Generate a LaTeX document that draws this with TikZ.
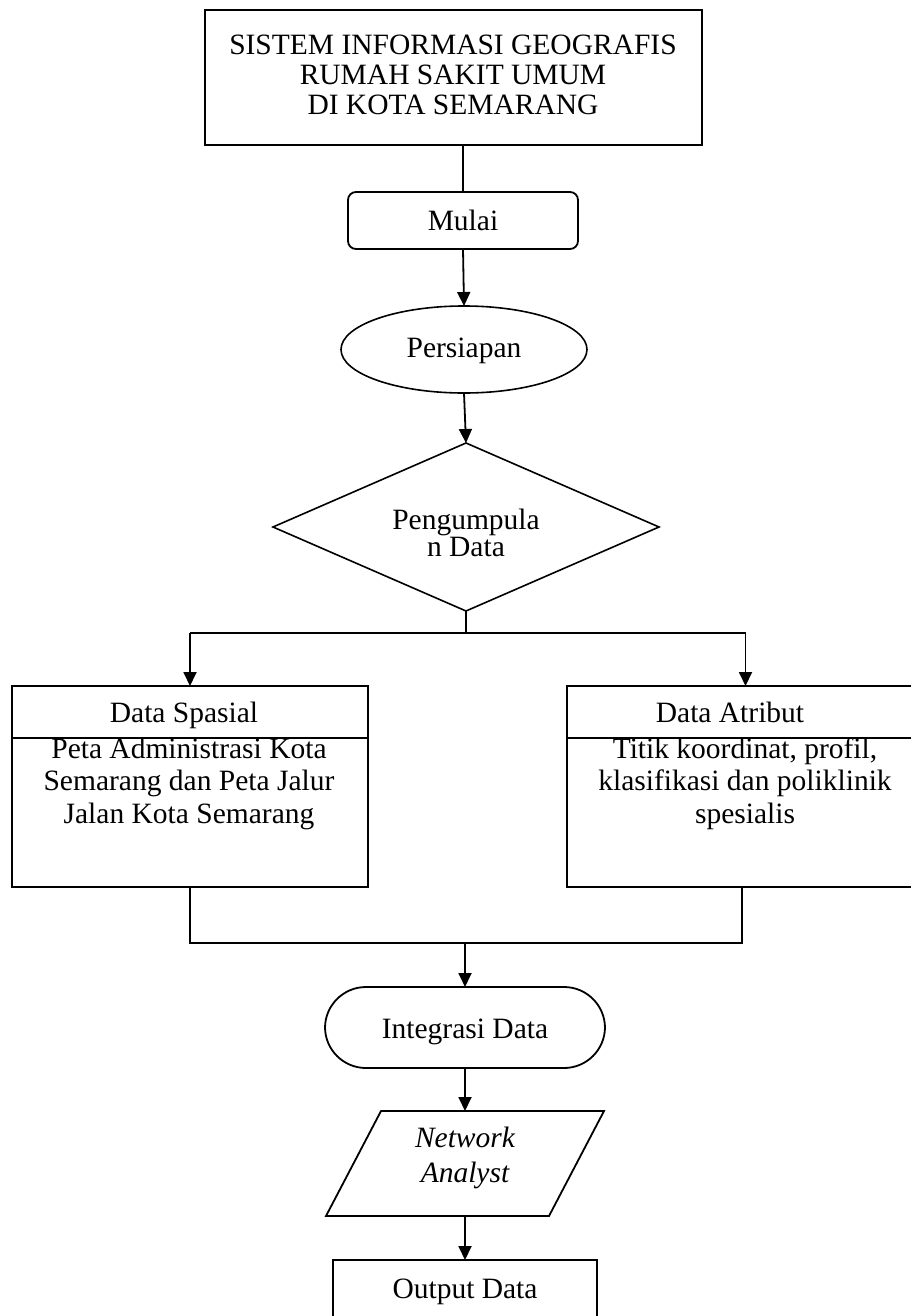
\documentclass[tikz,border=0pt]{standalone}
\usepackage{fontspec}
\setmainfont{Liberation Serif}
\usetikzlibrary{arrows.meta,shapes.geometric}
\newcommand\txtsz{\fontsize{29.5}{32}\selectfont}
\begin{document}
\begin{tikzpicture}[x=1pt,y=-1pt,
  every node/.style={inner sep=0pt, outer sep=0pt},
  ln/.style={line width=1.8pt},
  box/.style={draw, rectangle, line width=1.8pt},
  arr/.style={line width=1.8pt, -{Triangle[length=14pt,width=13pt]}},
  txt/.style={font=\txtsz, anchor=base, align=center}]
\useasboundingbox (0,0) rectangle (910,1316);

% shapes
\node[box, minimum width=497pt, minimum height=135pt] (top) at (453.5,77.5) {};
\node[box, rounded corners=8pt, minimum width=230pt, minimum height=57pt] (mulai) at (463,220.5) {};
\node[draw, ellipse, line width=1.6pt, minimum width=246pt, minimum height=87pt] (pers) at (464,349.5) {};
\node[draw, diamond, line width=1.6pt, minimum width=386pt, minimum height=168pt] (diam) at (466,527) {};
\node[box, minimum width=356pt, minimum height=201pt] (spas) at (190,786.5) {};
\node[box, minimum width=357pt, minimum height=201pt] (atr) at (745.5,786.5) {};
\node[box, rounded corners=41pt, minimum width=280pt, minimum height=81pt] (integ) at (465,1027.5) {};
\node[minimum width=278pt, minimum height=105pt] (net) at (465,1163.5) {};
\draw[ln, line join=miter] (net.south west) -- ([xshift=55pt]net.north west) -- (net.north east)
  -- ([xshift=-55pt]net.south east) -- cycle;
\node[box, minimum width=264pt, minimum height=90pt] (out) at (465,1305) {};

% dividers in data boxes
\draw[ln] ([yshift=-52pt]spas.north west) -- ([yshift=-52pt]spas.north east);
\draw[ln] ([yshift=-52pt]atr.north west) -- ([yshift=-52pt]atr.north east);

% texts (base anchor = baseline of the last line)
\node[txt, font=\fontsize{29.5}{30}\selectfont] (topt) at (453,115) {SISTEM INFORMASI GEOGRAFIS\\RUMAH SAKIT UMUM\\DI KOTA SEMARANG};
\node[txt] (mulait) at (463,230) {Mulai};
\node[txt] (perst) at (464,357) {Persiapan};
\node[txt, font=\fontsize{29.5}{27}\selectfont] (diamt) at (466,556) {Pengumpula\\n Data};
\node[txt] (spast1) at (184,722) {Data Spasial};
\node[txt, font=\fontsize{29.5}{32.5}\selectfont] (spast2) at (189,823) {Peta Administrasi Kota\\Semarang dan Peta Jalur\\Jalan Kota Semarang};
\node[txt] (atrt1) at (730,722) {Data Atribut};
\node[txt, font=\fontsize{29.5}{32.5}\selectfont] (atrt2) at (745,823) {Titik koordinat, profil,\\klasifikasi dan poliklinik\\spesialis};
\node[txt] (integt) at (465,1038) {Integrasi Data};
\node[txt, font=\fontsize{29.5}{35}\selectfont\itshape] (nett) at (465,1182) {Network\\Analyst};
\node[txt] (outt) at (465,1298) {Output Data};

% connectors
\draw[ln] (mulai.north |- top.south) -- (mulai.north);
\draw[arr] (mulai.south) -- (pers.north);
\draw[arr] (pers.south) -- (diam.north);
\coordinate (sl) at (190,633);
\coordinate (sr) at (745.5,633);
\draw[ln] (diam.south) -- (diam.south |- sl);
\draw[ln] (sl) -- (sr);
\draw[arr] (sl) -- (spas.north);
\draw[arr] (sr) -- (atr.north);
\coordinate (jl) at (190,943);
\coordinate (jr) at (742,943);
\draw[ln] (spas.south) -- (jl) -- (jr) -- (jr |- atr.south);
\draw[arr] (integ.north |- jl) -- (integ.north);
\draw[arr] (integ.south) -- (net.north);
\draw[arr] (net.south) -- (out.north);
\end{tikzpicture}
\end{document}
